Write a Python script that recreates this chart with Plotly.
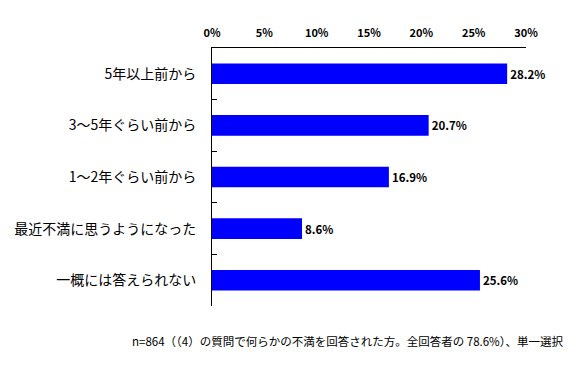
import plotly.graph_objects as go

categories = ["5年以上前から", "3～5年ぐらい前から", "1～2年ぐらい前から", "最近不満に思うようになった", "一概には答えられない"]
values = [28.2, 20.7, 16.9, 8.6, 25.6]
tick_vals = [0, 5, 10, 15, 20, 25, 30]
tick_text = ["0%", "5%", "10%", "15%", "20%", "25%", "30%"]
note = "n=864（（4）の質問で何らかの不満を回答された方。全回答者の 78.6%）、単一選択"

JP = "Noto Sans CJK JP"

fig = go.Figure(go.Bar(
    x=values, y=categories, orientation="h",
    marker=dict(color="#0000FF", line=dict(width=0)),
    width=0.4,
    text=[f"<b>{v:.1f}%</b>" for v in values],
    textposition="outside",
    textfont=dict(family=JP, size=11.5, color="black"),
    cliponaxis=False,
    constraintext="none",
    hoverinfo="skip",
))

fig.update_layout(
    width=580, height=383,
    margin=dict(l=212, r=54, t=48, b=77, autoexpand=False),
    paper_bgcolor="white", plot_bgcolor="white",
    showlegend=False,
    xaxis=dict(
        side="top", range=[0, 30], tickvals=tick_vals,
        ticktext=[f"<b>{t}</b>" for t in tick_text],
        showgrid=False, zeroline=False, showline=True, linecolor="black", linewidth=1,
        ticks="", tickfont=dict(family=JP, size=11, color="black"),
        ticklabelstandoff=6,
        fixedrange=True, automargin=False,
    ),
    yaxis=dict(
        autorange="reversed", showgrid=False, zeroline=False,
        showline=True, linecolor="black", linewidth=1,
        ticks="inside", ticklen=5, tickcolor="black", tickson="boundaries",
        tickfont=dict(family=JP, size=14, color="black"),
        ticklabelstandoff=12, automargin=False, fixedrange=True,
    ),
    annotations=[dict(
        text=note, xref="paper", yref="paper", x=1.124, y=-0.136,
        xanchor="right", yanchor="middle", showarrow=False,
        font=dict(family=JP, size=11.5, color="black"),
    )],
)

fig.write_html("out.html", config={"displayModeBar": False},
               post_script="document.body.style.margin='0';")
